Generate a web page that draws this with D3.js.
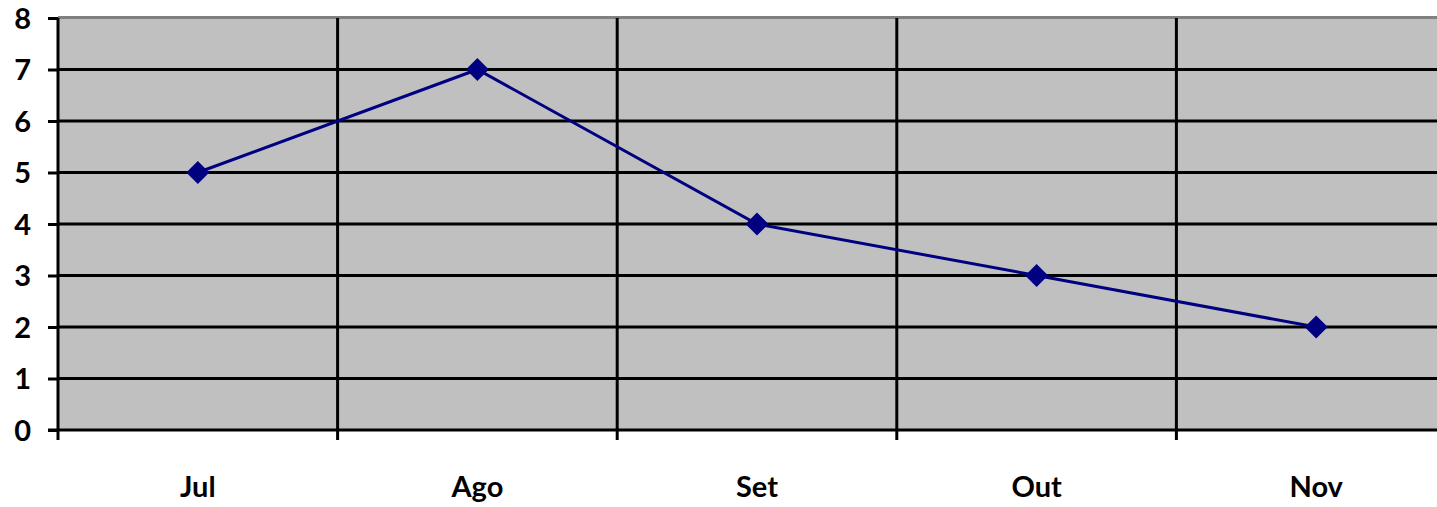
<!DOCTYPE html>
<html>
<head>
<meta charset="utf-8">
<script src="https://cdn.jsdelivr.net/npm/d3@7"></script>
<style>
  body { margin: 0; background: #fff; }
  svg text { font-family: Lato, "Open Sans", sans-serif; font-weight: bold; fill: #000; }
</style>
</head>
<body>
<div id="chart-area"></div>
<script>
var months = ["Jul", "Ago", "Set", "Out", "Nov"];
var values = [5, 7, 4, 3, 2];
var yTicks = [0, 1, 2, 3, 4, 5, 6, 7, 8];

var width = 1437, height = 507;
var plot = { left: 58, right: 1456, top: 18, bottom: 430 };

var svg = d3.select("#chart-area")
    .append("svg")
    .attr("width", width)
    .attr("height", height);

var x = d3.scaleBand().domain(months).range([plot.left, plot.right]);
var y = d3.scaleLinear().domain([0, 8]).range([plot.bottom, plot.top]);

// plot area
svg.append("rect")
    .attr("x", plot.left)
    .attr("y", plot.top)
    .attr("width", plot.right - plot.left)
    .attr("height", plot.bottom - plot.top)
    .attr("fill", "#c0c0c0");

svg.append("line")
    .attr("x1", plot.left).attr("x2", plot.right)
    .attr("y1", plot.top - 0.5).attr("y2", plot.top - 0.5)
    .attr("stroke", "#808080")
    .attr("stroke-width", 3);

// horizontal grid
svg.append("g")
    .selectAll("line")
    .data(yTicks.filter(d => d > 0 && d < 8))
    .enter().append("line")
    .attr("x1", plot.left).attr("x2", plot.right)
    .attr("y1", d => y(d)).attr("y2", d => y(d))
    .attr("stroke", "#000")
    .attr("stroke-width", 3);

// vertical grid at category boundaries
svg.append("g")
    .selectAll("line")
    .data(months.slice(1))
    .enter().append("line")
    .attr("x1", d => x(d)).attr("x2", d => x(d))
    .attr("y1", plot.top).attr("y2", plot.bottom)
    .attr("stroke", "#000")
    .attr("stroke-width", 3);

// y axis
var yAxis = svg.append("g")
    .attr("transform", "translate(" + plot.left + ",0)")
    .call(d3.axisLeft(y).tickValues(yTicks).tickSize(10).tickPadding(17).tickFormat(d3.format("d")));
yAxis.selectAll("path, line").attr("stroke", "#000").attr("stroke-width", 3);
yAxis.select(".domain").attr("d", "M0," + plot.top + "V" + plot.bottom);
yAxis.selectAll("text").style("font-size", "29px").attr("dy", "0.36em");

// x axis
var xAxis = svg.append("g")
    .attr("transform", "translate(0," + plot.bottom + ")")
    .call(d3.axisBottom(x).tickSize(0).tickPadding(46));
xAxis.select(".domain").attr("d", "M" + (plot.left - 10) + ",0H" + plot.right)
    .attr("stroke", "#000").attr("stroke-width", 3);
xAxis.selectAll("text").style("font-size", "29px");

svg.append("g")
    .selectAll("line")
    .data(months)
    .enter().append("line")
    .attr("x1", d => x(d)).attr("x2", d => x(d))
    .attr("y1", plot.bottom).attr("y2", plot.bottom + 10)
    .attr("stroke", "#000")
    .attr("stroke-width", 3);

// series line
var line = d3.line()
    .x((d, i) => x(months[i]) + x.bandwidth() / 2)
    .y(d => y(d));

svg.append("path")
    .datum(values)
    .attr("d", line)
    .attr("fill", "none")
    .attr("stroke", "#000080")
    .attr("stroke-width", 3);

svg.append("g")
    .selectAll("path")
    .data(values)
    .enter().append("path")
    .attr("transform", (d, i) => "translate(" + (x(months[i]) + x.bandwidth() / 2) + "," + y(d) + ")")
    .attr("d", "M0,-11.5L11.5,0L0,11.5L-11.5,0Z")
    .attr("fill", "#000080");
</script>
</body>
</html>
